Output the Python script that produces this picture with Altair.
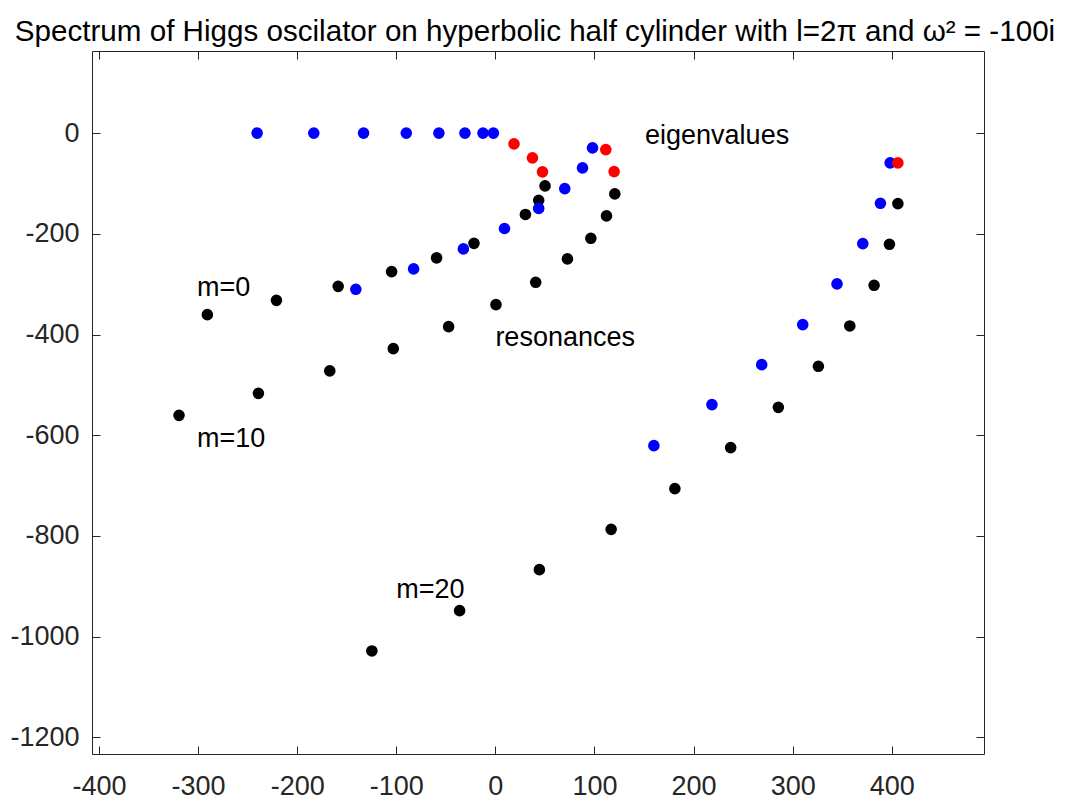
import altair as alt
import pandas as pd

# ---- data ----
black_x = [50.1, 43.7, 30.3, -21.6, -59.3, -104.7, -158.6, -220.9, -290.6,
           120.5, 112.1, 96.3, 72.7, 40.7, 0.6, -47.2, -103.0, -167.1, -239.1, -319.2,
           406.1, 397.6, 382.1, 357.6, 325.9, 285.5, 237.4, 181.1, 116.8, 44.4, -36.1, -124.6]
black_y = [-104.9, -133.5, -161.6, -218.9, -247.9, -275.1, -304.3, -332.1, -360.5,
           -120.8, -164.5, -208.9, -249.9, -296.3, -340.6, -384.3, -428.0, -472.3, -516.8, -560.5,
           -140.0, -220.8, -302.2, -383.0, -463.1, -544.6, -624.6, -706.0, -786.9, -866.9, -948.4, -1028.4]

blue_x = [-240.4, -183.2, -133.0, -89.9, -57.0, -30.7, -12.5, -2.0,
          98.0, 87.9, 70.0, 43.7, 9.2, -32.3, -82.5, -140.8,
          398.3, 388.5, 370.7, 344.7, 310.1, 268.7, 218.5, 159.9]
blue_y = [0, 0, 0, 0, 0, 0, 0, 0,
          -29.4, -69.1, -110.2, -149.6, -189.5, -230.0, -269.7, -310.2,
          -59.2, -139.4, -219.4, -299.5, -380.3, -459.8, -539.2, -620.7]

red_x = [18.8, 37.4, 47.5, 111.4, 119.8, 406.1]
red_y = [-21.5, -49.3, -77.0, -32.8, -76.5, -59.2]

label_text = ["m=0", "m=10", "m=20", "eigenvalues", "resonances"]
label_x = [-301, -301, -100, 151, 0]
label_y = [-307, -608, -908, -6, -406]

x_ticks = [-400, -300, -200, -100, 0, 100, 200, 300, 400]
y_ticks = [-1200, -1000, -800, -600, -400, -200, 0]

title_text = "Spectrum of Higgs oscilator on hyperbolic half cylinder with l=2\u03c0 and \u03c9\u00b2 = -100i"

# ---- tables ----
pts = pd.DataFrame({
    "x": black_x + blue_x + red_x,
    "y": black_y + blue_y + red_y,
    "color": ["#000000"] * len(black_x) + ["#0000ff"] * len(blue_x) + ["#ff0000"] * len(red_x),
})
pts["idx"] = range(len(pts))
labels_df = pd.DataFrame({"x": label_x, "y": label_y, "label": label_text})

FONT = "Liberation Sans"
AX = "#262626"
LABEL_EXPR = "'' + datum.value"

xscale = alt.Scale(domain=[-407, 493], nice=False, zero=False)
yscale = alt.Scale(domain=[-1233, 163], nice=False, zero=False)

common_axis = dict(title=None, offset=-8, tickSize=8, domain=False, grid=False,
                   tickColor=AX, tickWidth=1, labelFontSize=27, labelFont=FONT,
                   labelColor=AX, labelFlush=False, labelOverlap=False,
                   labelExpr=LABEL_EXPR)

points = alt.Chart(pts).mark_circle(size=135, opacity=1).encode(
    x=alt.X("x:Q", scale=xscale,
            axis=alt.Axis(orient="bottom", values=x_ticks, labelPadding=19, **common_axis)),
    y=alt.Y("y:Q", scale=yscale,
            axis=alt.Axis(orient="left", values=y_ticks, labelPadding=13, **common_axis)),
    color=alt.Color("color:N", scale=None),
    order=alt.Order("idx:Q"),
)

texts = alt.Chart(labels_df).mark_text(
    align="left", baseline="middle", fontSize=27, font=FONT, color="#000000"
).encode(
    x=alt.X("x:Q", scale=xscale,
            axis=alt.Axis(orient="top", values=x_ticks, labels=False, **common_axis)),
    y=alt.Y("y:Q", scale=yscale,
            axis=alt.Axis(orient="right", values=y_ticks, labels=False, **common_axis)),
    text="label:N",
)

chart = alt.layer(points, texts).resolve_axis(
    x="independent", y="independent"
).properties(
    width=892, height=703,
    padding={"left": 84, "top": 43, "right": 79, "bottom": 46},
    autosize=alt.AutoSizeParams(type="none"),
    title=alt.Title(text=title_text, fontSize=29.6, font=FONT, fontWeight="normal",
                    color="#000000", anchor="middle", frame="group", offset=-20,
                    dx=-3, baseline="alphabetic"),
).configure_view(stroke=AX, strokeWidth=1)

chart.save("out.html", embed_options={"renderer": "svg", "actions": False})
